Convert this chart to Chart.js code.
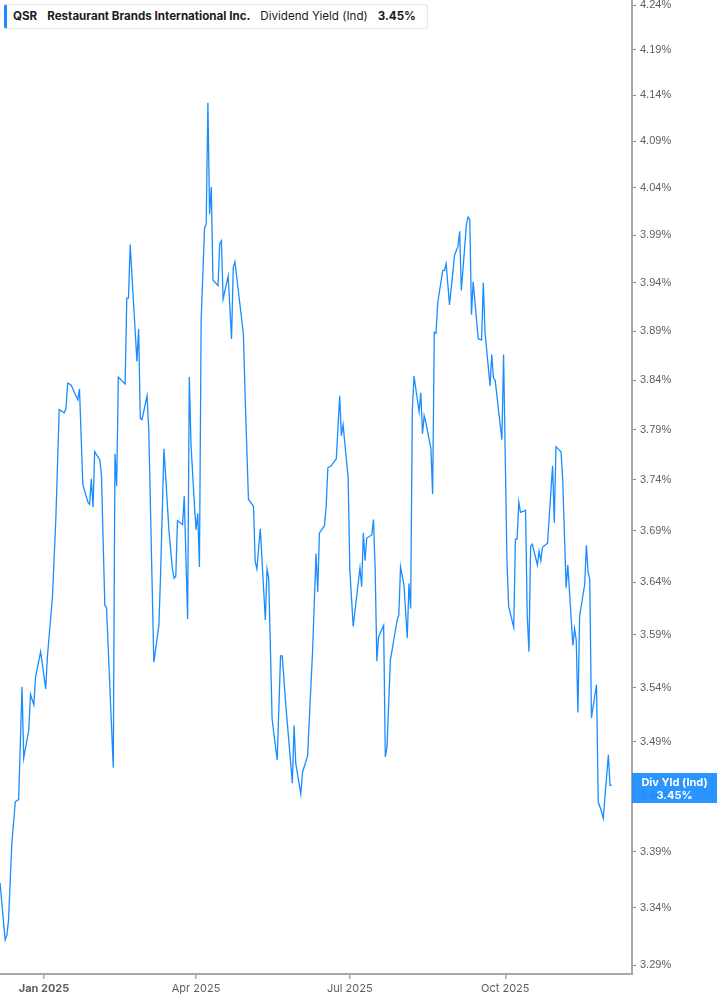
<!DOCTYPE html>
<html>
<head>
<meta charset="utf-8">
<script src="https://cdn.jsdelivr.net/npm/chart.js@4.4.1/dist/chart.umd.min.js"></script>
<style>
    body { margin: 0; background: #fff; font-family: Inter, "Liberation Sans", sans-serif; }
    #wrap { position: relative; width: 717px; height: 1005px; }
    #legend {
        position: absolute; left: 4px; top: 4px; height: 25px; width: 424px;
        box-sizing: border-box; border: 1px solid #e4e6ea; border-left: 3px solid #1a8cff;
        border-radius: 3px; background: #fff; font-size: 11.6px; color: #1c1c1c;
        line-height: 23px; white-space: nowrap; padding-left: 6px;
    }
    #legend b { font-weight: 700; }
    #legend span { margin-right: 10px; }
    #last {
        position: absolute; left: 632px; top: 773px; width: 85px; height: 30px;
        background: rgba(26, 140, 255, 0.93); color: #fff; font-weight: 700;
        font-size: 11px; line-height: 12.5px; text-align: center; padding-top: 3px; box-sizing: border-box;
    }
</style>
</head>
<body>
<div id="wrap">
    <canvas id="chart"></canvas>
    <div id="legend"><span><b>QSR</b></span><span><b>Restaurant Brands International Inc.</b></span><span>Dividend Yield (Ind)</span><span><b>3.45%</b></span></div>
    <div id="last">Div Yld (Ind)<br>3.45%</div>
</div>
<script>
const dates = [
    '2024-12-06','2024-12-09','2024-12-10','2024-12-11','2024-12-13','2024-12-15','2024-12-17','2024-12-19','2024-12-20','2024-12-23',
    '2024-12-24','2024-12-26','2024-12-27','2024-12-30','2025-01-02','2025-01-03','2025-01-06','2025-01-08','2025-01-10','2025-01-13',
    '2025-01-14','2025-01-15','2025-01-17','2025-01-21','2025-01-22','2025-01-24','2025-01-27','2025-01-28','2025-01-29','2025-01-30',
    '2025-01-31','2025-02-03','2025-02-04','2025-02-06','2025-02-07','2025-02-11','2025-02-12','2025-02-13','2025-02-14','2025-02-18',
    '2025-02-19','2025-02-20','2025-02-21','2025-02-25','2025-02-26','2025-02-27','2025-02-28','2025-03-03','2025-03-04','2025-03-07',
    '2025-03-10','2025-03-11','2025-03-13','2025-03-16','2025-03-18','2025-03-19','2025-03-20','2025-03-21','2025-03-24','2025-03-25',
    '2025-03-27','2025-03-28','2025-03-29','2025-03-31','2025-04-01','2025-04-02','2025-04-03','2025-04-04','2025-04-06','2025-04-07',
    '2025-04-08','2025-04-09','2025-04-10','2025-04-11','2025-04-14','2025-04-15','2025-04-16','2025-04-17','2025-04-20','2025-04-22',
    '2025-04-23','2025-04-24','2025-04-29','2025-04-30','2025-05-02','2025-05-05','2025-05-06','2025-05-07','2025-05-09','2025-05-12',
    '2025-05-13','2025-05-14','2025-05-16','2025-05-19','2025-05-21','2025-05-22','2025-05-24','2025-05-28','2025-05-29','2025-05-30',
    '2025-06-02','2025-06-03','2025-06-06','2025-06-07','2025-06-09','2025-06-11','2025-06-12','2025-06-13','2025-06-16','2025-06-17',
    '2025-06-18','2025-06-20','2025-06-23','2025-06-25','2025-06-26','2025-06-27','2025-06-30','2025-07-01','2025-07-03','2025-07-07',
    '2025-07-08','2025-07-09','2025-07-10','2025-07-11','2025-07-14','2025-07-15','2025-07-16','2025-07-17','2025-07-18','2025-07-21',
    '2025-07-22','2025-07-23','2025-07-25','2025-07-27','2025-07-29','2025-07-30','2025-07-31','2025-08-02','2025-08-04','2025-08-05',
    '2025-08-06','2025-08-07','2025-08-08','2025-08-11','2025-08-12','2025-08-13','2025-08-14','2025-08-15','2025-08-18','2025-08-19',
    '2025-08-20','2025-08-21','2025-08-22','2025-08-25','2025-08-26','2025-08-27','2025-08-29','2025-09-01','2025-09-03','2025-09-04',
    '2025-09-05','2025-09-08','2025-09-09','2025-09-10','2025-09-11','2025-09-12','2025-09-15','2025-09-17','2025-09-18','2025-09-19',
    '2025-09-22','2025-09-23','2025-09-24','2025-09-25','2025-09-29','2025-09-30','2025-10-02','2025-10-03','2025-10-06','2025-10-07',
    '2025-10-08','2025-10-09','2025-10-10','2025-10-13','2025-10-14','2025-10-15','2025-10-16','2025-10-17','2025-10-20','2025-10-21',
    '2025-10-22','2025-10-23','2025-10-26','2025-10-29','2025-10-30','2025-10-31','2025-11-03','2025-11-04','2025-11-06','2025-11-07',
    '2025-11-10','2025-11-11','2025-11-12','2025-11-13','2025-11-14','2025-11-17','2025-11-18','2025-11-19','2025-11-20','2025-11-21',
    '2025-11-24','2025-11-25','2025-11-27','2025-11-28','2025-12-01','2025-12-02','2025-12-03'
];

const divYield = [
    3.362, 3.312, 3.316, 3.329, 3.398, 3.435, 3.437, 3.541, 3.475, 3.501,
    3.534, 3.524, 3.550, 3.574, 3.539, 3.569, 3.626, 3.701, 3.810, 3.807,
    3.811, 3.837, 3.835, 3.820, 3.831, 3.735, 3.718, 3.716, 3.741, 3.713,
    3.768, 3.760, 3.745, 3.618, 3.616, 3.466, 3.766, 3.734, 3.843, 3.836,
    3.924, 3.924, 3.980, 3.859, 3.892, 3.801, 3.800, 3.824, 3.790, 3.564,
    3.599, 3.648, 3.771, 3.689, 3.653, 3.644, 3.646, 3.700, 3.696, 3.724,
    3.605, 3.843, 3.775, 3.716, 3.691, 3.707, 3.655, 3.901, 3.997, 4.002,
    4.132, 4.012, 4.041, 3.943, 3.937, 3.981, 3.984, 3.923, 3.947, 3.882,
    3.956, 3.962, 3.887, 3.826, 3.721, 3.714, 3.660, 3.653, 3.692, 3.604,
    3.653, 3.644, 3.511, 3.473, 3.570, 3.570, 3.526, 3.452, 3.505, 3.470,
    3.442, 3.462, 3.477, 3.510, 3.576, 3.668, 3.631, 3.688, 3.695, 3.714,
    3.752, 3.754, 3.761, 3.824, 3.784, 3.795, 3.742, 3.652, 3.598, 3.654,
    3.636, 3.688, 3.661, 3.683, 3.686, 3.701, 3.652, 3.565, 3.588, 3.599,
    3.476, 3.485, 3.566, 3.585, 3.604, 3.609, 3.655, 3.638, 3.587, 3.639,
    3.615, 3.810, 3.844, 3.808, 3.827, 3.786, 3.804, 3.797, 3.771, 3.726,
    3.889, 3.888, 3.919, 3.953, 3.953, 3.960, 3.917, 3.969, 3.978, 3.994,
    3.932, 4.001, 4.009, 4.006, 3.907, 3.941, 3.882, 3.881, 3.940, 3.889,
    3.834, 3.866, 3.842, 3.840, 3.780, 3.866, 3.660, 3.617, 3.597, 3.682,
    3.682, 3.718, 3.708, 3.710, 3.608, 3.574, 3.675, 3.677, 3.657, 3.670,
    3.661, 3.674, 3.678, 3.754, 3.698, 3.773, 3.768, 3.740, 3.635, 3.657,
    3.580, 3.596, 3.585, 3.517, 3.608, 3.638, 3.676, 3.650, 3.643, 3.512,
    3.543, 3.435, 3.426, 3.420, 3.478, 3.450, 3.450
];

const xTickDates = ['2025-01-01', '2025-04-01', '2025-07-01', '2025-10-01'];
const xTickLabels = ['Jan 2025', 'Apr 2025', 'Jul 2025', 'Oct 2025'];
const yTicks = [3.29, 3.34, 3.39, 3.44, 3.49, 3.54, 3.59, 3.64, 3.69, 3.74, 3.79, 3.84, 3.89, 3.94, 3.99, 4.04, 4.09, 4.14, 4.19, 4.24];

// days counted from 1 Jan 2025
const base = Date.parse('2025-01-01');
const toDay = s => (Date.parse(s) - base) / 86400000;
const xTickDays = xTickDates.map(toDay);

const points = dates.map((d, i) => ({x: toDay(d), y: divYield[i]}));

const axisColor = '#a9a9a9';
const labelColor = '#5f5f5f';

new Chart(document.getElementById('chart'), {
    type: 'line',
    data: {
        datasets: [{
            label: 'Div Yld (Ind)',
            data: points,
            borderColor: '#1a8cff',
            borderWidth: 1.3,
            pointRadius: 0,
            tension: 0,
            fill: false
        }]
    },
    options: {
        responsive: true,
        maintainAspectRatio: false,
        animation: false,
        events: [],
        layout: {padding: 0},
        plugins: {legend: {display: false}, tooltip: {enabled: false}},
        scales: {
            x: {
                type: 'linear',
                min: -26.04,
                max: 348,
                afterFit: s => { s.height = 31; s.paddingLeft = 0; s.paddingRight = 0; },
                afterBuildTicks: s => { s.ticks = xTickDays.map(v => ({value: v})); },
                grid: {drawOnChartArea: false, drawTicks: true, tickLength: 5, color: axisColor, lineWidth: 1.5},
                border: {display: true, color: axisColor, width: 2},
                ticks: {
                    autoSkip: false,
                    maxRotation: 0,
                    padding: 3,
                    color: labelColor,
                    font: ctx => ({family: 'Inter', size: 11, weight: ctx.index === 0 ? 'bold' : 'normal'}),
                    callback: (v) => xTickLabels[xTickDays.indexOf(v)]
                }
            },
            y: {
                type: 'logarithmic',
                position: 'right',
                min: 3.2822,
                max: 4.2457,
                afterFit: s => { s.width = 85; s.paddingTop = 0; s.paddingBottom = 0; },
                afterBuildTicks: s => { s.ticks = yTicks.map(v => ({value: v})); },
                grid: {drawOnChartArea: false, drawTicks: true, tickLength: 4, color: '#888', lineWidth: 1},
                border: {display: true, color: axisColor, width: 2},
                ticks: {
                    padding: 4,
                    color: labelColor,
                    font: {family: 'Liberation Sans', size: 11},
                    callback: v => v.toFixed(2) + '%'
                }
            }
        }
    }
});
</script>
</body>
</html>
